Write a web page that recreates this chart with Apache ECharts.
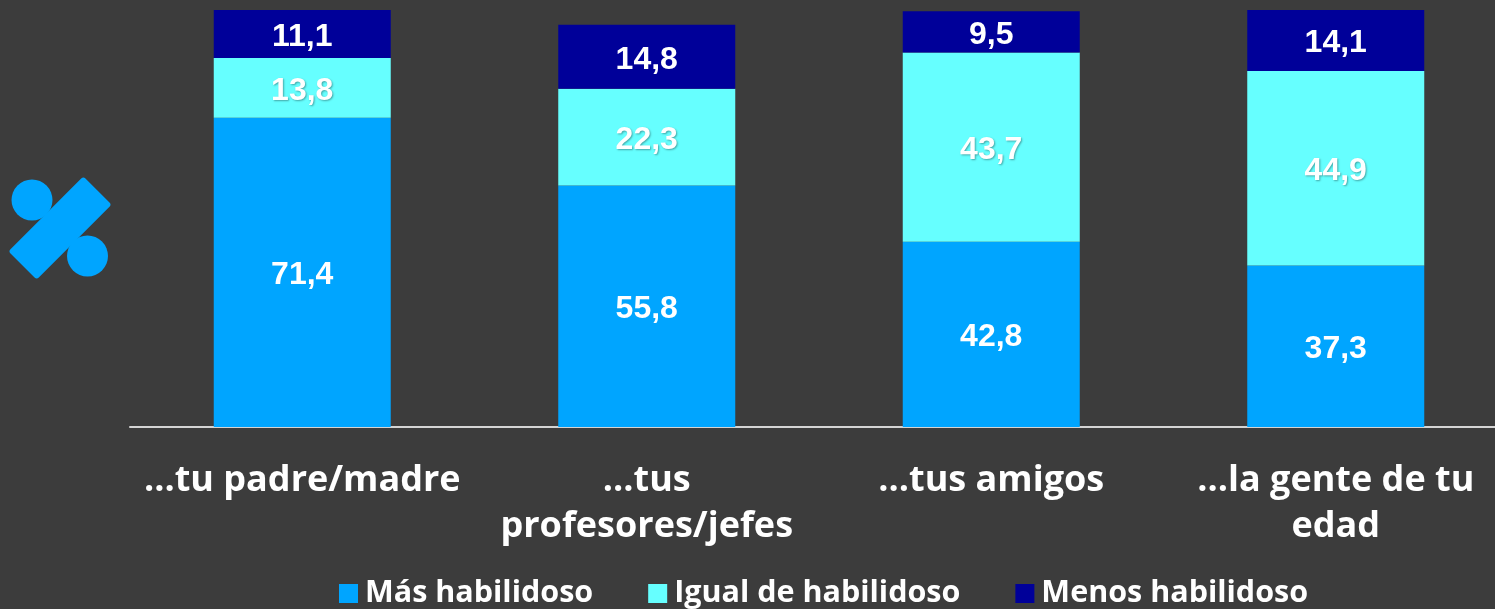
<!DOCTYPE html>
<html>
<head>
    <meta charset="utf-8">
    <script src="https://cdn.jsdelivr.net/npm/echarts@6/dist/echarts.min.js"></script>
    <style type="text/css">
        html, body { width: 100%; height: 100%; margin: 0; background: #3c3c3c; overflow: hidden; }
        #chart { width: 1495px; height: 609px; }
    </style>
</head>
<body>
<div id="chart"></div>
<script type="text/javascript">
    const categories = ['...tu padre/madre', '...tus\nprofesores/jefes', '...tus amigos', '...la gente de tu\nedad'];
    const masHabilidoso = [71.4, 55.8, 42.8, 37.3];
    const igualHabilidoso = [13.8, 22.3, 43.7, 44.9];
    const menosHabilidoso = [11.1, 14.8, 9.5, 14.1];

    const BLUE = '#00a5ff';

    function barSeries(name, data, color, shadow) {
        return {
            name: name,
            type: 'bar',
            stack: 'total',
            barWidth: 177,
            data: data,
            itemStyle: { color: color },
            label: {
                show: true,
                position: 'inside',
                offset: [0, 3],
                color: '#fff',
                fontFamily: '"Liberation Sans"',
                fontWeight: 'bold',
                fontSize: 32,
                textShadowColor: shadow ? 'rgba(0,0,0,0.35)' : 'transparent',
                textShadowBlur: shadow ? 2 : 0,
                textShadowOffsetX: shadow ? 1 : 0,
                textShadowOffsetY: shadow ? 1 : 0,
                // decimal comma as in the original
                formatter: p => p.value.toFixed(1).replace('.', ',')
            }
        };
    }

    const myChart = echarts.init(document.getElementById('chart'));
    myChart.setOption({
        backgroundColor: '#3c3c3c',
        animation: false,
        grid: { left: 130, right: -13, top: -6, bottom: 182, outerBoundsMode: 'none' },
        legend: {
            bottom: -5,
            left: 334,
            itemWidth: 19,
            itemHeight: 19,
            itemGap: 55,
            icon: 'rect',
            textStyle: { color: '#fff', fontFamily: '"Open Sans"', fontWeight: 'bold', fontSize: 30.5, padding: [5, 0, 0, 2] },
            data: ['Más habilidoso', 'Igual de habilidoso', 'Menos habilidoso']
        },
        xAxis: {
            type: 'category',
            data: categories,
            axisTick: { show: false },
            axisLine: { lineStyle: { color: '#d4d4d4', width: 2 } },
            axisLabel: {
                color: '#fff',
                fontFamily: '"Open Sans"',
                fontWeight: 'bold',
                fontSize: 36,
                lineHeight: 46,
                margin: 31,
                interval: 0
            }
        },
        yAxis: { type: 'value', min: 0, max: 100, show: false },
        series: [
            barSeries('Más habilidoso', masHabilidoso, BLUE, false),
            barSeries('Igual de habilidoso', igualHabilidoso, '#66ffff', true),
            barSeries('Menos habilidoso', menosHabilidoso, '#000099', false)
        ],
        graphic: [
            { type: 'circle', shape: { cx: 32, cy: 200, r: 20.5 }, style: { fill: BLUE } },
            { type: 'circle', shape: { cx: 87.5, cy: 256, r: 20.5 }, style: { fill: BLUE } },
            {
                type: 'rect',
                x: 60, y: 228,
                rotation: Math.PI / 4,
                shape: { x: -53, y: -20, width: 106, height: 40, r: 3 },
                style: { fill: BLUE }
            }
        ]
    });
</script>
</body>
</html>
